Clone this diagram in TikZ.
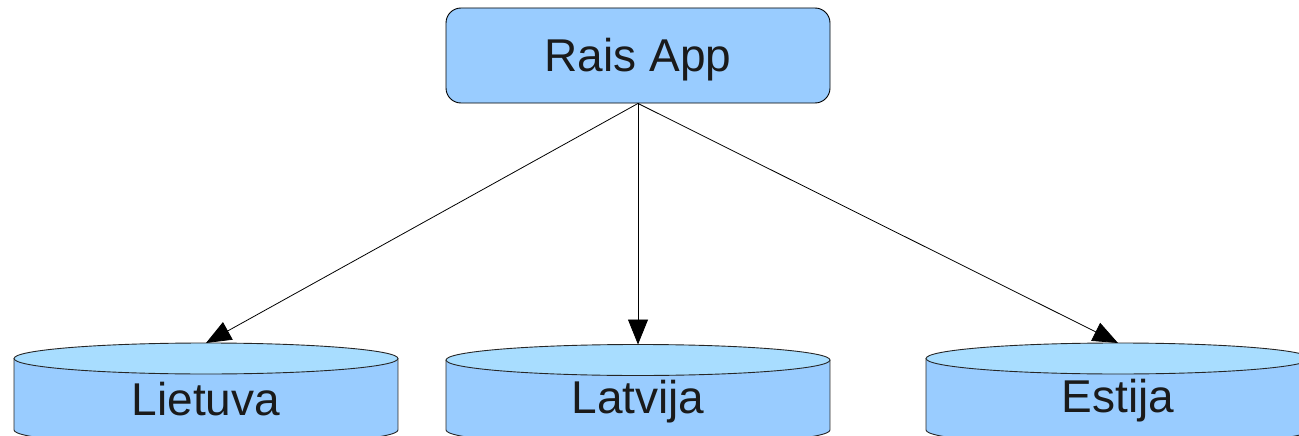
\documentclass[tikz,border=0pt]{standalone}
\usepackage{fontspec}
\setmainfont{Liberation Sans}
\usetikzlibrary{arrows.meta}
\definecolor{boxfill}{HTML}{99CCFF}
\definecolor{topfill}{HTML}{A8DDFF}
\definecolor{txt}{HTML}{1A1A1A}
\tikzset{
  lbl/.style={anchor=base, inner sep=0pt, text=txt, font=\fontsize{46}{50}\selectfont},
  appbox/.style={draw=black, line width=0.9pt, fill=boxfill, rounded corners=15pt, minimum width=384pt, minimum height=95pt, inner sep=0pt},
  link/.style={draw=black, line width=0.8pt, -{Triangle[length=25pt,width=20pt]}},
  cylline/.style={draw=black!85, line width=0.9pt}
}
\newcommand{\cyl}[4]{% cx, ytop-center, name, label
  \fill[boxfill] (#1-192,#2) rectangle (#1+192,430);
  \fill[boxfill] (#1-192,430) arc[start angle=180,end angle=0,x radius=192,y radius=15.5] -- cycle;
  \draw[cylline] (#1-192,#2) -- (#1-192,430) arc[start angle=180,end angle=0,x radius=192,y radius=15.5] -- (#1+192,#2);
  \draw[cylline, fill=topfill] (#1,#2) ellipse[x radius=192, y radius=15.5];
  \coordinate (#3top) at (#1,#2-15.5);
}
\begin{document}
\begin{tikzpicture}[x=1pt,y=-1pt]
\useasboundingbox (0,0) rectangle (1299,436);
\begin{scope}
\clip (0,0) rectangle (1299,436);
\cyl{206}{358.5}{L}{Lietuva}
\cyl{638}{360}{V}{Latvija}
\cyl{1118}{358.5}{E}{Estija}
\end{scope}
\node[appbox] (R) at (638,55.5) {};
\node[lbl] (Rt) at (638,72) {Rais App};
\node[lbl] (Lt) at (206,415) {Lietuva};
\node[lbl] (Vt) at (638,413) {Latvija};
\node[lbl] (Et) at (1118,412) {Estija};
\draw[link] (R.south) -- (Ltop);
\draw[link] (R.south) -- (Vtop);
\draw[link] (R.south) -- (Etop);
\end{tikzpicture}
\end{document}
